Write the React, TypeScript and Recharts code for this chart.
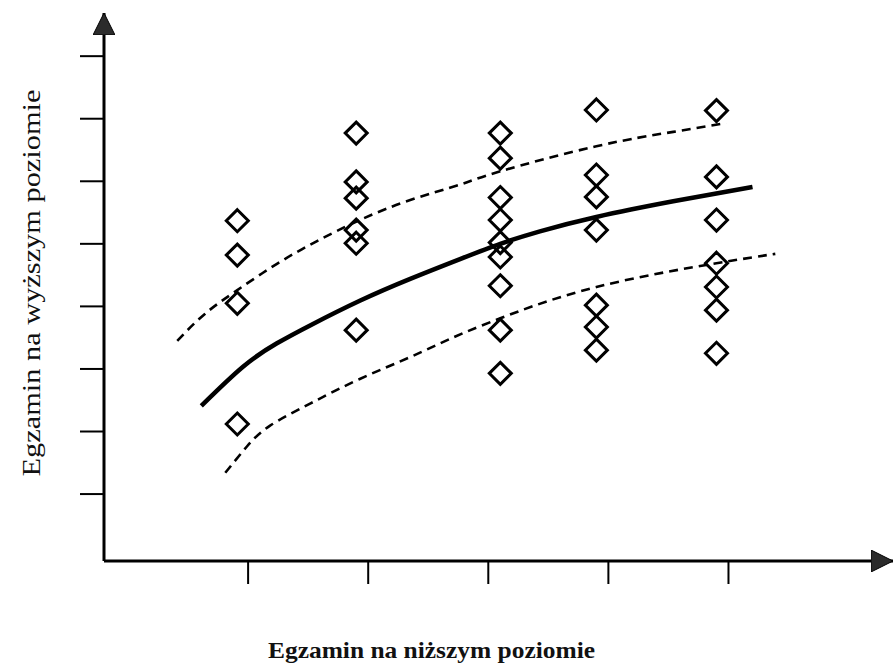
import { ComposedChart, Scatter, Line, XAxis, YAxis } from "recharts";

// column positions on the lower-level exam axis
const colX = [0.91, 1.9, 3.1, 3.9, 4.9];

// higher-level exam results in each column
const col1 = [5.37, 4.82, 4.05, 2.12];
const col2 = [6.77, 5.99, 5.73, 5.22, 5.01, 3.62];
const col3 = [6.77, 6.37, 5.74, 5.38, 5.02, 4.79, 4.33, 3.62, 2.93];
const col4 = [7.14, 6.1, 5.75, 5.22, 4.02, 3.67, 3.3];
const col5 = [7.13, 6.07, 5.38, 4.69, 4.31, 3.94, 3.25];

// fitted curve
const trendX = [0.61, 0.96, 1.24, 1.52, 1.93, 2.35, 2.77, 3.1, 3.43, 3.9, 4.54, 5.2];
const trendY = [2.41, 3.04, 3.41, 3.7, 4.09, 4.44, 4.76, 5.0, 5.2, 5.43, 5.68, 5.91];

// upper band
const upperX = [0.41, 0.64, 0.91, 1.24, 1.57, 1.93, 2.35, 2.77, 3.1, 3.9, 4.54, 4.98];
const upperY = [3.45, 3.88, 4.26, 4.68, 5.04, 5.38, 5.7, 5.95, 6.16, 6.56, 6.79, 6.93];

// lower band
const lowerX = [0.81, 0.99, 1.18, 1.52, 1.93, 2.35, 2.68, 3.1, 3.9, 4.9, 5.39];
const lowerY = [1.34, 1.76, 2.09, 2.45, 2.84, 3.19, 3.48, 3.81, 4.31, 4.69, 4.84];

const xTicks = [1, 2, 3, 4, 5];
const yTicks = [1, 2, 3, 4, 5, 6, 7, 8];

const points = [col1, col2, col3, col4, col5].flatMap((ys, i) => ys.map((y) => ({ x: colX[i], y })));
const toSeries = (xs: number[], ys: number[]) => xs.map((x, i) => ({ x, y: ys[i] }));
const trend = toSeries(trendX, trendY);
const upper = toSeries(upperX, upperY);
const lower = toSeries(lowerX, lowerY);

const FONT = '"Liberation Serif", "Times New Roman", serif';

const Diamond = (props: any) => {
  const { cx, cy } = props;
  if (cx == null || cy == null) return null;
  const r = 11;
  return (
    <path
      d={`M${cx},${cy - r} L${cx + r},${cy} L${cx},${cy + r} L${cx - r},${cy} Z`}
      fill="none"
      stroke="#000"
      strokeWidth={3}
    />
  );
};

const App = () => {
  return (
    <div style={{ position: "absolute", left: 0, top: 0, width: 894, height: 665, background: "#fff" }}>
      <svg width={0} height={0} style={{ position: "absolute" }}>
        <defs>
          <marker
            id="arrowHead"
            viewBox="0 0 22 22"
            refX={22}
            refY={11}
            markerWidth={22}
            markerHeight={22}
            markerUnits="userSpaceOnUse"
            orient="auto-start-reverse"
          >
            <path d="M0,0 L22,11 L0,22 Z" fill="#2b2b2b" stroke="#000" strokeWidth={1} />
          </marker>
        </defs>
      </svg>
      <ComposedChart width={894} height={665} margin={{ top: 13, right: 1, bottom: 81, left: 80 }}>
        <XAxis
          type="number"
          dataKey="x"
          domain={[-0.2, 6.37]}
          allowDataOverflow
          ticks={xTicks}
          tickFormatter={() => ""}
          tickSize={23}
          height={23}
          axisLine={{ stroke: "#000", strokeWidth: 3, markerEnd: "url(#arrowHead)" }}
          tickLine={{ stroke: "#000", strokeWidth: 2 }}
          label={{
            content: () => (
              <text x={268} y={658} fontFamily={FONT} fontSize={24} fontWeight="bold" fill="#111" textLength={327} lengthAdjust="spacingAndGlyphs">
                Egzamin na niższym poziomie
              </text>
            ),
          }}
        />
        <YAxis
          type="number"
          dataKey="y"
          domain={[-0.07, 8.69]}
          allowDataOverflow
          ticks={yTicks}
          tickFormatter={() => ""}
          tickSize={24}
          width={24}
          axisLine={{ stroke: "#000", strokeWidth: 3, markerStart: "url(#arrowHead)" }}
          tickLine={{ stroke: "#000", strokeWidth: 2 }}
          label={{
            content: () => (
              <text
                x={40}
                y={283}
                transform="rotate(-90 40 283)"
                textAnchor="middle"
                fontFamily={FONT}
                fontSize={26}
                fill="#111"
                textLength={387}
                lengthAdjust="spacingAndGlyphs"
              >
                Egzamin na wyższym poziomie
              </text>
            ),
          }}
        />
        <Line data={upper} dataKey="y" type="natural" stroke="#000" strokeWidth={2.6} strokeDasharray="9 6" dot={false} activeDot={false} isAnimationActive={false} />
        <Line data={lower} dataKey="y" type="natural" stroke="#000" strokeWidth={2.6} strokeDasharray="9 6" dot={false} activeDot={false} isAnimationActive={false} />
        <Line data={trend} dataKey="y" type="natural" stroke="#000" strokeWidth={4.5} dot={false} activeDot={false} isAnimationActive={false} />
        <Scatter data={points} shape={<Diamond />} isAnimationActive={false} />
      </ComposedChart>
    </div>
  );
};

export default App;
